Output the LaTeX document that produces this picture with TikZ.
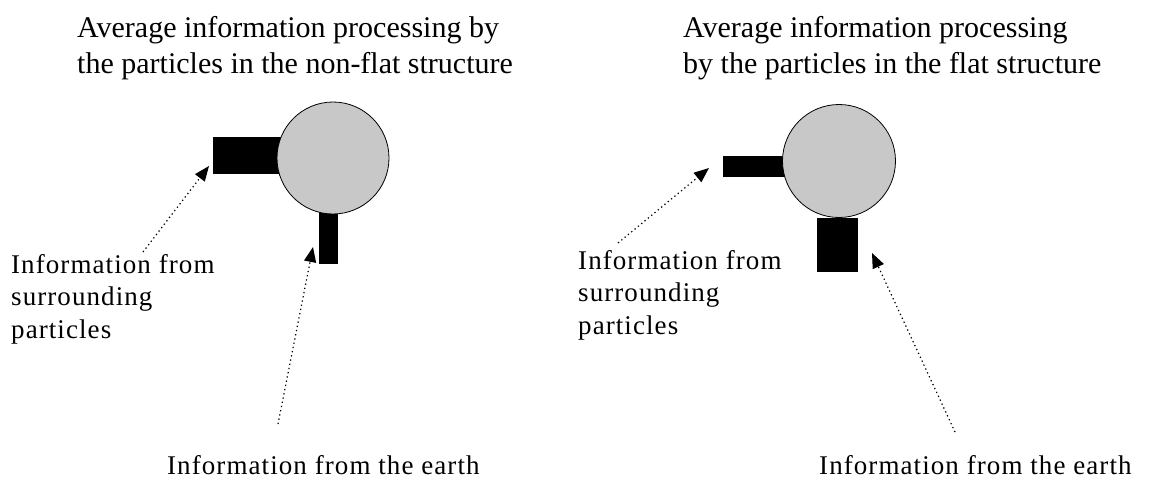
\documentclass[tikz,border=0pt]{standalone}
\usepackage{fontspec}
\setmainfont{Liberation Serif}
\usetikzlibrary{arrows.meta}
\definecolor{ballgray}{HTML}{C8C8C8}
\tikzset{
  ball/.style={draw=black, line width=0.8pt, fill=ballgray, circle, inner sep=0pt},
  bar/.style={fill=black, draw=none, inner sep=0pt},
  title/.style={font=\fontsize{30}{36}\selectfont, align=left, anchor=north west, inner sep=0pt},
  lab/.style={font=\fontsize{27}{32.5}\selectfont\addfontfeature{LetterSpace=4}, align=left, anchor=north west, inner sep=0pt},
  info/.style={dash pattern=on 1.3pt off 3pt, line width=1.2pt, -{Triangle[length=15pt,width=12pt]}}
}
\begin{document}
\begin{tikzpicture}[x=1pt,y=-1pt]
\useasboundingbox (0,0) rectangle (1170,482);
% left diagram
\node[title] (t1) at (77,16) {Average information processing by\\the particles in the non-flat structure};
\node[bar, minimum width=68, minimum height=37] (h1) at (247,155.5) {};
\node[bar, minimum width=19, minimum height=52] (v1) at (328.5,238) {};
\node[ball, minimum size=112] (c1) at (333,158) {};
\node[lab] (l1) at (11,254) {Information from\\surrounding\\particles};
\node[lab, anchor=base west] (e1) at (167,474) {Information from the earth};
\coordinate (a1s) at (143,252);
\coordinate (a1e) at (209,166);
\coordinate (a2s) at (278,424);
\coordinate (a2e) at (313,247);
\draw[info] (a1s) -- (a1e);
\draw[info] (a2s) -- (a2e);
% right diagram
\node[title] (t2) at (683,16) {Average information processing\\by the particles in the flat structure};
\node[bar, minimum width=62, minimum height=21] (h2) at (754,166.5) {};
\node[bar, minimum width=41, minimum height=54] (v2) at (837.5,245) {};
\node[ball, minimum size=113] (c2) at (839,161) {};
\node[lab] (l2) at (578,250) {Information from\\surrounding\\particles};
\node[lab, anchor=base west] (e2) at (819,474) {Information from the earth};
\coordinate (b1s) at (618,243);
\coordinate (b1e) at (709,168);
\coordinate (b2s) at (955,432);
\coordinate (b2e) at (872,253);
\draw[info] (b1s) -- (b1e);
\draw[info] (b2s) -- (b2e);
\end{tikzpicture}
\end{document}
